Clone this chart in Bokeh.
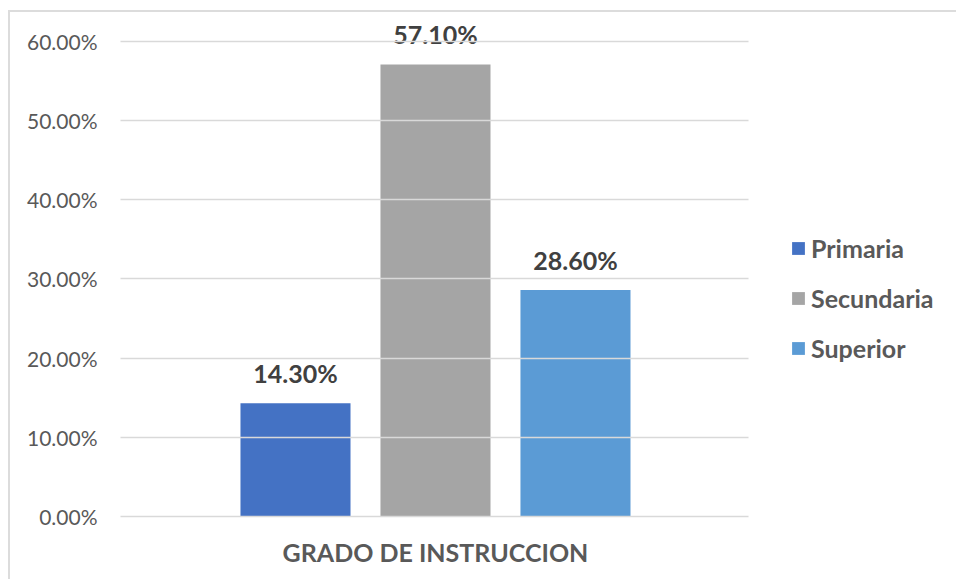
from bokeh.plotting import figure
from bokeh.models import (ColumnDataSource, Range1d, FixedTicker,
                          NumeralTickFormatter, Legend, LegendItem)
from bokeh.core.properties import value
from bokeh.embed import file_html
from bokeh.resources import INLINE

category = "GRADO DE INSTRUCCION"
series = ["Primaria", "Secundaria", "Superior"]
values = [0.143, 0.571, 0.286]
colors = ["#4472C4", "#A5A5A5", "#5B9BD5"]
y_ticks = [0.0, 0.1, 0.2, 0.3, 0.4, 0.5, 0.6]

FONT = "Lato"

p = figure(width=948, height=569, output_backend="svg", toolbar_location=None,
           x_range=Range1d(-1.25, 4.736), y_range=Range1d(0, 0.6366),
           min_border_left=110, min_border_right=0, min_border_top=0,
           min_border_bottom=65)
p.outline_line_color = None
p.background_fill_color = "white"
p.border_fill_color = "white"
p.styles = {"border-top": "2px solid #dcdcdc", "border-left": "2px solid #dcdcdc",
            "margin-top": "10px", "margin-left": "8px"}

items = []
for i, (s, v, c) in enumerate(zip(series, values, colors)):
    src = ColumnDataSource(dict(x=[i], top=[v], lbl=[f"{v*100:.2f}%"]))
    r = p.vbar(x="x", top="top", width=0.786, source=src,
               fill_color=c, line_color=None)
    p.text(x="x", y="top", text="lbl", source=src,
           text_align="center", text_baseline="bottom", y_offset=-15,
           text_font=value(FONT), text_font_style="bold",
           text_font_size="25px", text_color="#404040")
    items.append(LegendItem(label=s, renderers=[r]))

legend = Legend(items=items, location=(670, 153), orientation="vertical",
                label_text_font=FONT, label_text_font_style="bold",
                label_text_font_size="25px", label_text_color="#595959",
                glyph_width=16, glyph_height=16, label_height=24,
                spacing=20, padding=10, margin=0,
                border_line_color=None, background_fill_alpha=0)
p.add_layout(legend, "center")

# y axis: ticks drawn inward across the plot act as the gridlines
p.yaxis.ticker = FixedTicker(ticks=y_ticks)
p.yaxis.formatter = NumeralTickFormatter(format="0.00%")
p.yaxis.axis_line_color = None
p.yaxis.major_tick_in = 628
p.yaxis.major_tick_out = 0
p.yaxis.major_tick_line_color = "#d9d9d9"
p.yaxis.major_tick_line_width = 1.5
p.yaxis.minor_tick_line_color = None
p.yaxis.major_label_text_font = FONT
p.yaxis.major_label_text_font_size = "21px"
p.yaxis.major_label_text_color = "#595959"
p.yaxis.major_label_standoff = 23

p.xaxis.ticker = FixedTicker(ticks=[1])
p.xaxis.major_label_overrides = {1: category}
p.xaxis.axis_line_color = None
p.xaxis.major_tick_line_color = None
p.xaxis.major_tick_out = 0
p.xaxis.minor_tick_line_color = None
p.xaxis.major_label_text_font = FONT
p.xaxis.major_label_text_font_style = "bold"
p.xaxis.major_label_text_font_size = "25px"
p.xaxis.major_label_text_color = "#595959"
p.xaxis.major_label_standoff = 20

p.xgrid.grid_line_color = None
p.ygrid.grid_line_color = None

open("out.html", "w").write(file_html(p, INLINE))
